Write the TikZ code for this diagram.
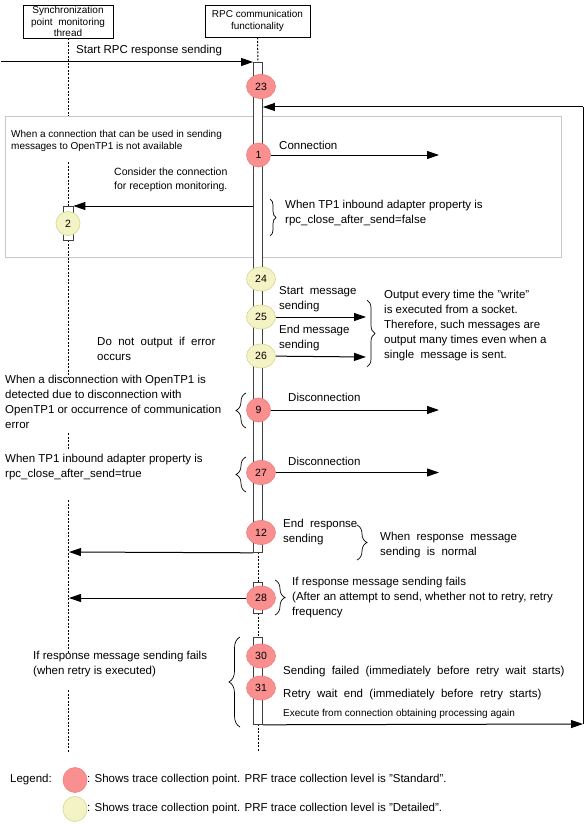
\documentclass[tikz,border=0pt]{standalone}
\usepackage{fontspec}
\setmainfont{Liberation Sans}
\usetikzlibrary{arrows.meta,shapes.geometric,decorations.pathreplacing}
\definecolor{redf}{HTML}{F98F8F}
\definecolor{redd}{HTML}{F27E7E}
\definecolor{yelf}{HTML}{F3F3C5}
\definecolor{yeld}{HTML}{D6D68E}
\definecolor{grayframe}{HTML}{C8C8C8}
\begin{document}
\begin{tikzpicture}[x=1pt,y=-1pt,
  txt/.style={font=\fontsize{11.5}{15}\selectfont, inner sep=0pt, align=left, anchor=west},
  stxt/.style={font=\fontsize{10}{12.5}\selectfont, inner sep=0pt, align=left, anchor=west},
  hdr/.style={draw, line width=0.8pt, font=\fontsize{10}{11.5}\selectfont, align=center, inner sep=0pt},
  rpt/.style={ellipse, draw=redd, fill=redf, line width=0.6pt, inner sep=0pt, minimum width=29pt, minimum height=24pt, font=\fontsize{10.5}{12}\selectfont},
  ypt/.style={ellipse, draw=yeld, fill=yelf, line width=0.6pt, inner sep=0pt, minimum width=29pt, minimum height=24pt, font=\fontsize{10.5}{12}\selectfont},
  one/.style={minimum width=24pt},
  msg/.style={-{Triangle[length=12pt,width=8pt]}, line width=1pt},
  life/.style={dash pattern=on 2pt off 1.5pt, line width=1pt},
  act/.style={draw=black!75, fill=white, line width=0.8pt, inner sep=0pt, anchor=north},
  brc/.style={decorate, decoration={brace, amplitude=#1}, line width=0.7pt}
]
\useasboundingbox (0,0) rectangle (587,824);

% gray frame
\node[draw=grayframe, line width=1pt, inner sep=0pt, minimum width=556pt, minimum height=141pt, anchor=north west] (frame) at (5,116) {};

% headers
\node[hdr, minimum width=90pt, minimum height=33pt] (h1) at (68,21.5) {Synchronization\\point\ \ monitoring\\thread};
\node[hdr, minimum width=105pt, minimum height=32pt] (h2) at (257.5,21) {RPC communication\\functionality};

% lifeline coordinates
\coordinate (l1) at (68,116);
\coordinate (l2) at (68,162);
\coordinate (l3) at (68,206);
\coordinate (l4) at (68,240);
\coordinate (l5) at (68,377);
\coordinate (l6) at (68,433);
\coordinate (l7) at (68,450);
\coordinate (l8) at (68,500);
\coordinate (l9) at (68,653);
\coordinate (l10) at (68,690);
\coordinate (l11) at (68,752);
\draw[life] (h1.south) -- (l1);
\draw[life] (l2) -- (l3);
\draw[life] (l4) -- (l5);
\draw[life] (l6) -- (l7);
\draw[life] (l8) -- (l9);
\draw[life] (l10) -- (l11);

\coordinate (r1) at (258,62);
\coordinate (r2) at (258,552);
\coordinate (r3) at (258,582);
\coordinate (r4) at (258,613);
\coordinate (r5) at (258,637);
\coordinate (r6) at (258,724);
\coordinate (r7) at (258,752);
\draw[life] (h2.south) -- (r1);
\draw[life] (r2) -- (r3);
\draw[life] (r4) -- (r5);
\draw[life] (r6) -- (r7);

% activation boxes
\node[act, minimum width=9pt, minimum height=490pt] (A) at (r1) {};
\node[act, minimum width=9pt, minimum height=31pt] (B28) at (r3) {};
\node[act, minimum width=9pt, minimum height=87pt] (B30) at (r5) {};
\node[act, minimum width=10pt, minimum height=34pt] (B2) at (l3) {};

% incoming / loop arrows
\coordinate (startin) at (1,62);
\draw[msg] (startin) -- (A.north west);
\coordinate (fr1) at (583,107);
\coordinate (fr2) at (583,724);
\draw[msg] (B30.south east) -- (fr2);
\draw[line width=1pt] (fr2) -- (fr1);
\draw[msg] (fr1) -- (A.east |- fr1);

% trace points
\node[rpt] (c23) at (261,86.5) {23};
\node[rpt,one] (c1) at (258.5,155) {1};
\node[ypt,one] (c2) at (68,223.5) {2};
\node[ypt] (c24) at (261,279) {24};
\node[ypt] (c25) at (261,317) {25};
\node[ypt] (c26) at (261,356) {26};
\node[rpt,one] (c9) at (258.5,410) {9};
\node[rpt] (c27) at (261,472.5) {27};
\node[rpt] (c12) at (261,532.5) {12};
\node[rpt] (c28) at (261,598) {28};
\node[rpt] (c30) at (261,656) {30};
\node[rpt] (c31) at (261,688) {31};

% outgoing arrows
\coordinate (e1) at (439,155);
\draw[msg] (c1) -- (e1);
\draw[msg] (A.west |- B2.north east) -- (B2.north east);
\coordinate (e25) at (366,317);
\coordinate (e26) at (366,357);
\draw[msg] (c25) -- (e25);
\draw[msg] (c26) -- (e26);
\coordinate (e9) at (439,410);
\coordinate (e27) at (439,472.5);
\draw[msg] (c9) -- (e9);
\draw[msg] (c27) -- (e27);
\coordinate (e12) at (69,552);
\draw[msg] (A.south west) -- (e12);
\coordinate (e28) at (69,598);
\draw[msg] (c28) -- (e28);

% braces
\coordinate (b1a) at (270,199); \coordinate (b1b) at (270,236);
\draw[brc=6pt] (b1a) -- (b1b);
\coordinate (b2a) at (367,300); \coordinate (b2b) at (367,367);
\draw[brc=8pt] (b2a) -- (b2b);
\coordinate (b3a) at (246,393); \coordinate (b3b) at (246,428);
\draw[brc=10pt] (b3b) -- (b3a);
\coordinate (b4a) at (246,457); \coordinate (b4b) at (246,492);
\draw[brc=10pt] (b4b) -- (b4a);
\coordinate (b5a) at (357,525); \coordinate (b5b) at (357,560);
\draw[brc=10pt] (b5a) -- (b5b);
\coordinate (b6a) at (275,580); \coordinate (b6b) at (275,615);
\draw[brc=10pt] (b6a) -- (b6b);
\coordinate (b7a) at (240,637); \coordinate (b7b) at (240,727);
\draw[brc=11pt] (b7b) -- (b7a);

% texts
\node[txt] (tstart) at (76,50.5) {Start RPC response sending};
\node[stxt] (tnoconn) at (11,141) {When a connection that can be used in sending\\messages to OpenTP1 is not available};
\node[txt] (tconn) at (279,145) {Connection};
\node[txt, font=\fontsize{10.5}{14}\selectfont] (tconsider) at (114,180) {Consider the connection\\for reception monitoring.};
\node[txt] (tfalse) at (285,213) {When TP1 inbound adapter property is\\rpc\_close\_after\_send=false};
\node[txt] (tstartmsg) at (279,299.5) {Start\ \ message\\sending};
\node[txt] (tendmsg) at (279,338.5) {End message\\sending};
\node[txt] (twrite) at (384,326) {Output every time the ”write”\\is executed from a socket.\\Therefore, such messages are\\output many times even when a\\single\ \ message is sent.};
\node[txt] (tdonot) at (97,348.5) {Do\ \ not\ \ output\ \ if\ \ error\\occurs};
\node[txt] (tdisc) at (5,401.5) {When a disconnection with OpenTP1 is\\detected due to disconnection with\\OpenTP1 or occurrence of communication\\error};
\node[txt] (tdisc1) at (288,397) {Disconnection};
\node[txt] (ttrue) at (5,467) {When TP1 inbound adapter property is\\rpc\_close\_after\_send=true};
\node[txt] (tdisc2) at (288,461) {Disconnection};
\node[txt] (tendresp) at (283,532.5) {End\ \ response\\sending};
\node[txt] (tnormal) at (380,545) {When\ \ response\ \ message\\sending\ \ is\ \ normal};
\node[txt] (tfail) at (292,598) {If response message sending fails\\(After an attempt to send, whether not to retry, retry\\frequency};
\node[txt] (tretry) at (33,664.5) {If response message sending fails\\(when retry is executed)};
\node[txt] (tsendfail) at (283,672) {Sending\ \ failed\ \ (immediately\ \ before\ \ retry\ \ wait\ \ starts)};
\node[txt] (twaitend) at (283,695) {Retry\ \ wait\ \ end\ \ (immediately\ \ before\ \ retry\ \ starts)};
\node[stxt] (texec) at (283,714) {Execute\ from\ connection\ obtaining\ processing\ again};

% legend
\node[txt] (tleg) at (10,780) {Legend:};
\node[rpt,one,minimum height=25pt] (lr) at (75,780) {};
\node[ypt,one,minimum height=25pt] (ly) at (75,809) {};
\node[txt] (tlr) at (87,780) {: Shows trace collection point. PRF trace collection level is ”Standard”.};
\node[txt] (tly) at (87,808.5) {: Shows trace collection point. PRF trace collection level is ”Detailed”.};
\end{tikzpicture}
\end{document}
